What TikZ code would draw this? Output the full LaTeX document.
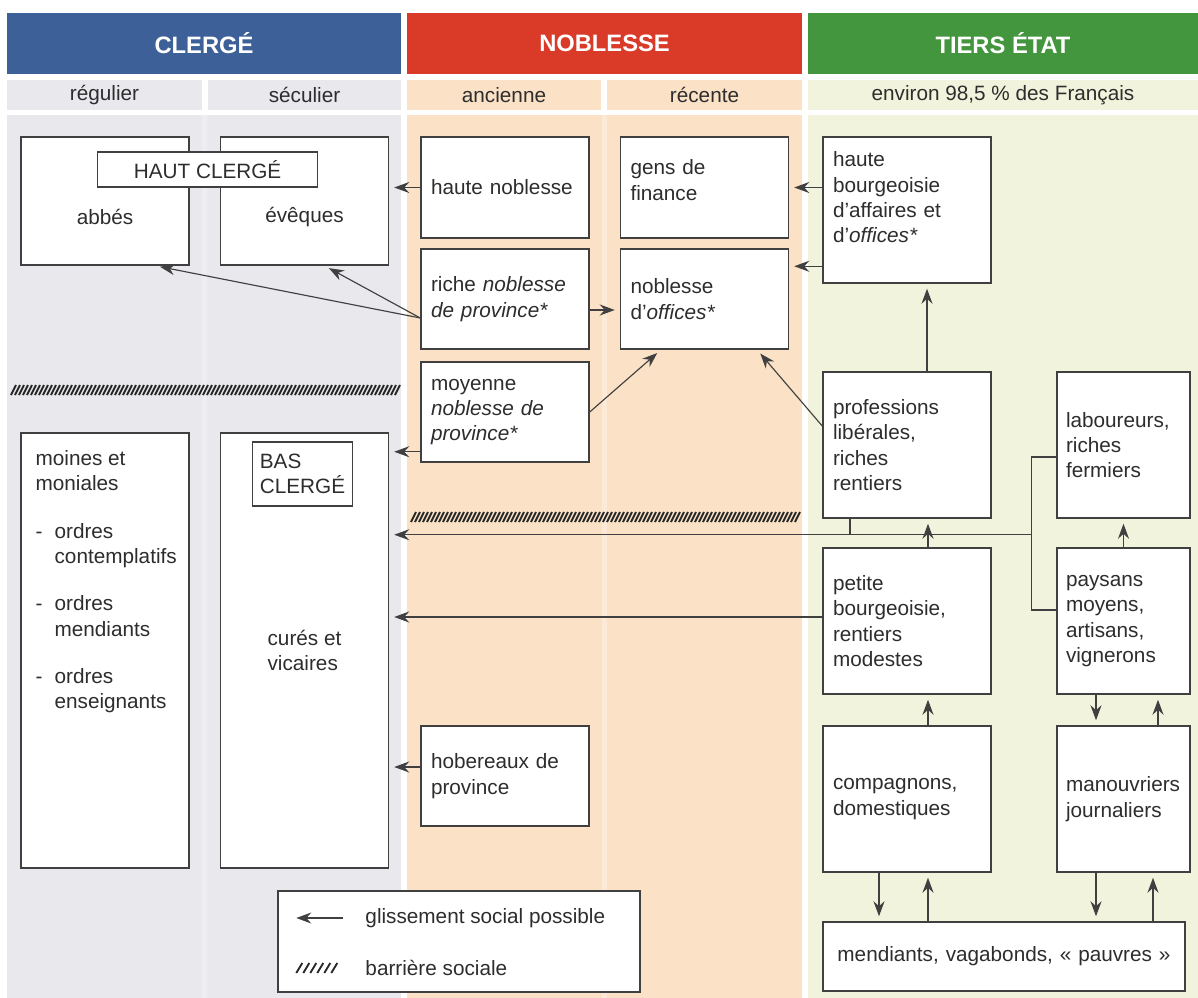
\documentclass[tikz,border=0pt]{standalone}
\usepackage{fontspec}
\setmainfont{Liberation Sans}
\usepackage{xcolor}
\usetikzlibrary{arrows.meta, positioning}

\definecolor{clergeblue}{RGB}{62,96,152}
\definecolor{noblered}{RGB}{218,58,40}
\definecolor{tiersgreen}{RGB}{68,150,62}
\definecolor{clergebg}{RGB}{232,232,237}
\definecolor{noblebg}{RGB}{251,226,198}
\definecolor{tiersbg}{RGB}{242,243,220}
\definecolor{textgrey}{RGB}{45,45,45}

\tikzset{
  every node/.style={font=\fontsize{11.8}{14.4}\selectfont, text=textgrey},
  head/.style={minimum height=1.22cm, inner sep=0, text=white, font=\fontsize{13.5}{16}\selectfont\bfseries},
  subhead/.style={minimum height=0.6cm, inner sep=0},
  box/.style={draw=black!75, fill=white, line width=0.85pt, inner xsep=0.2cm, inner ysep=0, text width=2.96cm, align=left},
  narrowbox/.style={box, inner xsep=0.18cm, text width=2.3cm},
  etiquette/.style={draw=black!75, fill=white, line width=0.85pt},
  glisse/.style={-{Stealth[length=3mm,width=2.2mm]}, draw=black!75, line width=0.65pt, shorten >=1mm},
  trait/.style={draw=black!75, line width=0.65pt},
  barre/.style={draw=black!85, line width=1.05pt},
}

\begin{document}
\begin{tikzpicture}[x=0.02cm, y=-0.02cm]
\useasboundingbox (0,0) rectangle (1198,998);

% fonds des trois ordres
\fill[clergebg] (7,115) rectangle (401,998);
\fill[noblebg] (407,115) rectangle (802,998);
\fill[tiersbg] (808,115) rectangle (1198,998);
\draw[white, opacity=0.3, line width=0.1cm] (204.5,115) -- (204.5,998);
\draw[white, opacity=0.3, line width=0.1cm] (604,115) -- (604,998);

% en-tetes
\node[head, fill=clergeblue, minimum width=7.88cm] (clerge) at (204,43.5) {CLERGÉ};
\node[head, fill=noblered, minimum width=7.9cm] (noblesse) at (604.5,43.5) {NOBLESSE};
\node[head, fill=tiersgreen, minimum width=7.8cm] (tiers) at (1003,43.5) {TIERS ÉTAT};
\node[subhead, fill=clergebg, minimum width=3.9cm] (regulier) at (104.5,95) {régulier};
\node[subhead, fill=clergebg, minimum width=3.86cm] (seculier) at (304.5,95) {séculier};
\node[subhead, fill=noblebg, minimum width=3.88cm] (ancienne) at (504,95) {ancienne};
\node[subhead, fill=noblebg, minimum width=3.9cm] (recente) at (704.5,95) {récente};
\node[subhead, fill=tiersbg, minimum width=7.8cm] (environ) at (1003,95) {environ 98,5~\% des Français};

% barrieres sociales
\foreach \i in {11,15,...,395} \draw[barre] (\i,395) -- ++(5,-10);
\foreach \i in {411,415,...,797} \draw[barre] (\i,522) -- ++(5,-10);

% clerge
\node[box, minimum height=2.56cm] (abbes) at (105,201) {};
\node[box, minimum height=2.56cm] (eveques) at (304.5,201) {};
\node[etiquette, minimum width=4.4cm, minimum height=0.7cm, inner sep=0] (hautclerge) at (207.6,169.5) {HAUT CLERGÉ};
\node (abbestxt) at ([yshift=-0.32cm]abbes.center) {abbés};
\node (evequestxt) at ([yshift=-0.32cm]eveques.center) {évêques};
\node[box, minimum height=8.7cm] (moines) at (105,650.5) {};
\node[anchor=north west, align=left, inner sep=0] (moinestxt) at ([xshift=0.3cm, yshift=-0.36cm]moines.north west)
  {moines et\\moniales\\[0.44cm]
   \makebox[0.38cm][l]{-}ordres\\\hspace*{0.38cm}contemplatifs\\[0.44cm]
   \makebox[0.38cm][l]{-}ordres\\\hspace*{0.38cm}mendiants\\[0.44cm]
   \makebox[0.38cm][l]{-}ordres\\\hspace*{0.38cm}enseignants};
\node[box, minimum height=8.7cm] (cures) at (304.5,650.5) {};
\node[etiquette, minimum width=1.98cm, minimum height=1.28cm, align=left, inner sep=0.15cm] (basclerge) at (302.5,474) {BAS\\CLERGÉ};
\node[align=left] (curestxt) at (cures.center) {curés et\\vicaires};

% noblesse
\node[box, minimum height=2.02cm] (hautenob) at (505,187.5) {haute noblesse};
\node[box, minimum height=2cm] (riche) at (505,299) {riche \textit{noblesse}\\\textit{de province*}};
\node[box, minimum height=2cm] (moyenne) at (505,412) {moyenne\\\textit{noblesse de}\\\textit{province*}};
\node[box, minimum height=2cm] (hobereaux) at (505,776) {hobereaux de\\province};
\node[box, minimum height=2.02cm] (gensfin) at (704.5,187.5) {gens de\\finance\\[-0.2cm]\mbox{}};
\node[box, minimum height=2cm] (noboff) at (704.5,299) {noblesse\\d’\textit{offices*}};

% tiers etat
\node[box, minimum height=2.92cm] (hautebourg) at (907,210) {haute\\bourgeoisie\\d’affaires et\\d’\textit{offices*}\\\mbox{}};
\node[box, minimum height=2.92cm] (prof) at (907,445) {professions\\libérales,\\riches\\rentiers};
\node[box, minimum height=2.92cm] (petite) at (907,621) {petite\\bourgeoisie,\\rentiers\\modestes};
\node[box, minimum height=2.92cm] (compagnons) at (907,799) {compagnons,\\domestiques};
\node[narrowbox, minimum height=2.92cm] (laboureurs) at (1123.5,445) {laboureurs,\\riches\\fermiers};
\node[narrowbox, minimum height=2.92cm] (paysans) at (1123.5,621) {paysans\\moyens,\\artisans,\\vignerons};
\node[narrowbox, minimum height=2.92cm] (manouvriers) at (1123.5,799) {manouvriers\\journaliers};
\node[box, text width=6.84cm, align=center, minimum height=1.38cm] (mendiants) at (1004,956.5) {mendiants, vagabonds, «~pauvres~»};

% glissements vers le clerge
\draw[glisse] (hautenob.west) -- (eveques.east |- hautenob.west);
\coordinate (richeg) at ([yshift=-0.38cm]riche.west);
\draw[glisse] (richeg) -- ([xshift=1cm]abbes.south);
\draw[glisse] (richeg) -- ([xshift=0.4cm]eveques.south);
\coordinate (moyg) at ([yshift=0.22cm]moyenne.south west);
\draw[glisse] (moyg) -- (cures.east |- moyg);
\coordinate (hobg) at ([yshift=0.18cm]hobereaux.west);
\draw[glisse] (hobg) -- (cures.east |- hobg);
\coordinate (petg) at ([yshift=0.08cm]petite.west);
\draw[glisse] (petg) -- (cures.east |- petg);

% glissements vers la noblesse
\draw[glisse] (hautebourg.west |- gensfin.east) -- (gensfin.east);
\coordinate (offin) at ([yshift=-0.36cm]noboff.north east);
\draw[glisse] (hautebourg.west |- offin) -- (offin);
\coordinate (riched) at ([yshift=-0.22cm]riche.east);
\draw[glisse] (riched) -- (noboff.west |- riched);
\draw[glisse] (moyenne.east) -- ([xshift=-0.87cm]noboff.south);
\draw[glisse] ([yshift=0.38cm]prof.west) -- ([xshift=1.05cm]noboff.south);

% glissements dans le tiers etat
\draw[glisse] ([xshift=0.4cm]prof.north) -- ([xshift=0.4cm]hautebourg.south);
\coordinate (crochh) at ([yshift=-0.24cm]laboureurs.west);
\coordinate (crochb) at ([yshift=0.22cm]paysans.west);
\draw[trait] (crochh) -- ++(-0.5cm,0) coordinate (crochg) -- (crochg |- crochb) -- (crochb);
\coordinate (ligne) at ([yshift=-0.32cm]prof.south);
\draw[glisse] (crochg |- ligne) -- (cures.east |- ligne);
\coordinate (profbas) at ([xshift=-1.14cm]prof.south);
\draw[trait] (profbas) -- (profbas |- ligne);
\draw[glisse] ([xshift=0.42cm]petite.north) -- ([xshift=0.42cm]prof.south);
\draw[glisse] (paysans.north) -- (laboureurs.south);
\draw[glisse] ([xshift=0.42cm]compagnons.north) -- ([xshift=0.42cm]petite.south);
\draw[glisse] ([xshift=-0.55cm]paysans.south) -- ([xshift=-0.55cm]manouvriers.north);
\draw[glisse] ([xshift=0.69cm]manouvriers.north) -- ([xshift=0.69cm]paysans.south);
\coordinate (compbg) at ([xshift=-0.56cm]compagnons.south);
\coordinate (compbd) at ([xshift=0.42cm]compagnons.south);
\draw[glisse] (compbg) -- (compbg |- mendiants.north);
\draw[glisse] (compbd |- mendiants.north) -- (compbd);
\coordinate (manbg) at ([xshift=-0.55cm]manouvriers.south);
\coordinate (manbd) at ([xshift=0.59cm]manouvriers.south);
\draw[glisse] (manbg) -- (manbg |- mendiants.north);
\draw[glisse] (manbd |- mendiants.north) -- (manbd);

% legende
\node[box, text width=6.84cm, minimum height=2.02cm] (legende) at (459,941.5) {};
\coordinate (lega) at ([xshift=1.32cm, yshift=0.47cm]legende.west);
\coordinate (legb) at ([xshift=0.38cm, yshift=0.47cm]legende.west);
\draw[glisse, shorten >=0pt] (lega) -- (legb);
\node[anchor=west] (legglisse) at ([xshift=1.64cm, yshift=0.47cm]legende.west) {glissement social possible};
\foreach \i in {0,...,5} \draw[barre] ([xshift=0.38cm+\i*0.14cm, yshift=-0.63cm]legende.west) -- ++(0.12cm,0.2cm);
\node[anchor=west] (legbarre) at ([xshift=1.64cm, yshift=-0.53cm]legende.west) {barrière sociale};
\end{tikzpicture}
\end{document}
